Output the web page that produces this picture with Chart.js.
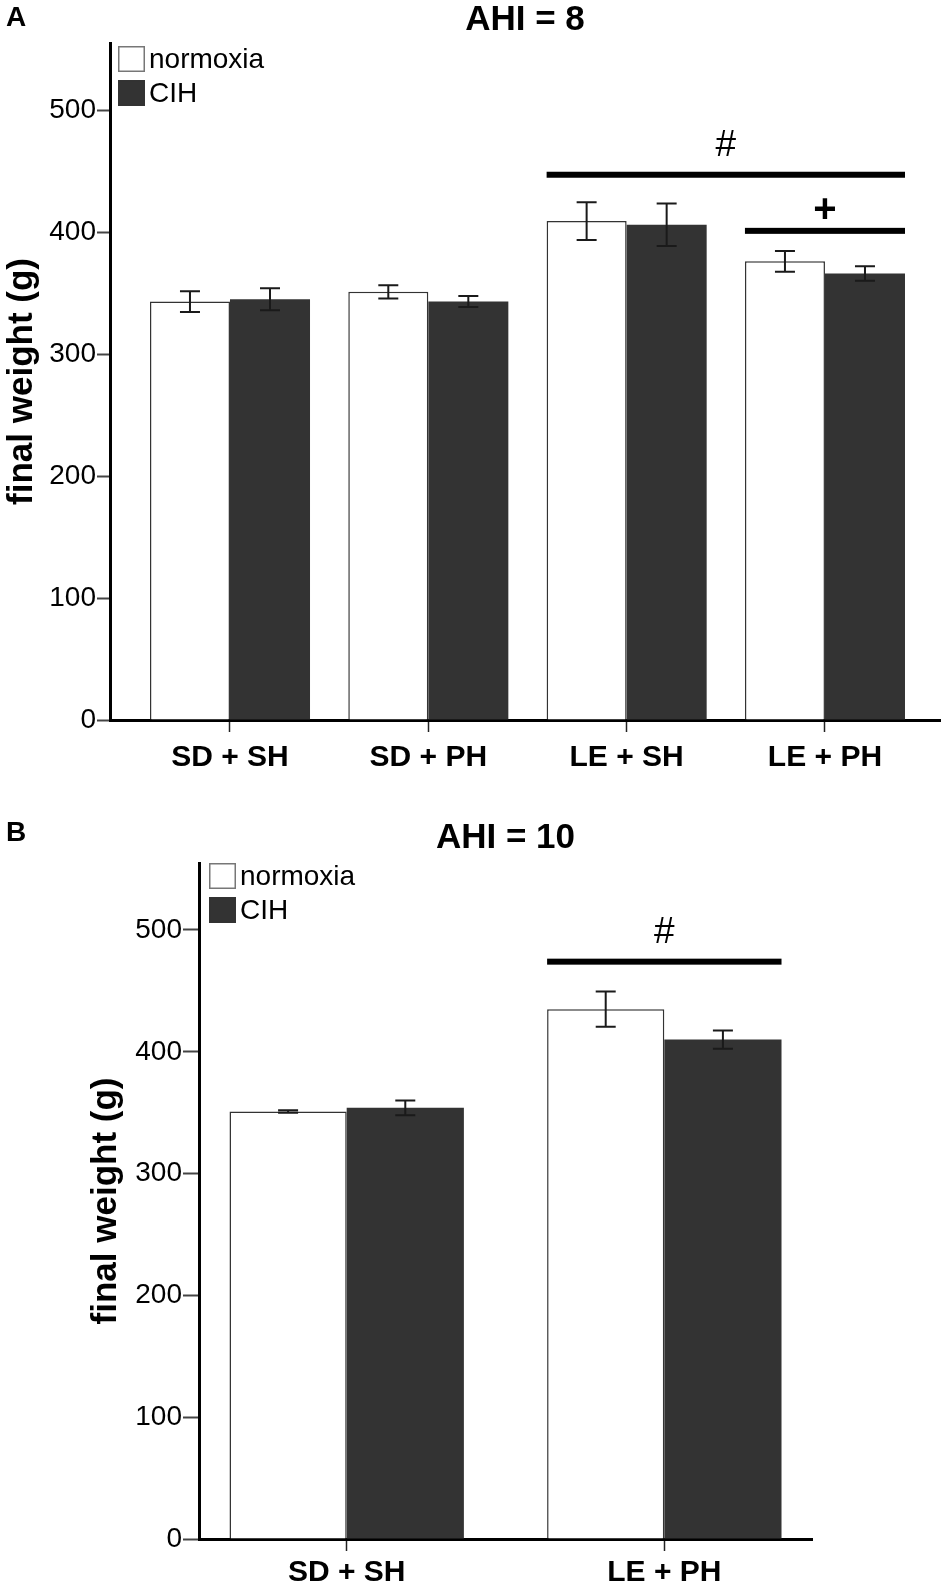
<!DOCTYPE html>
<html>
<head>
<meta charset="utf-8">
<script src="https://cdn.jsdelivr.net/npm/chart.js@4.4.1/dist/chart.umd.min.js"></script>
<style>
  body { margin: 0; background: #fff; }
  canvas { display: block; }
</style>
</head>
<body>
<canvas id="chartA" width="950" height="790"></canvas>
<canvas id="chartB" width="950" height="796"></canvas>
<script>
// panel A: AHI = 8
const categoriesA = ['SD + SH', 'SD + PH', 'LE + SH', 'LE + PH'];
const normoxiaA = [343, 351, 409, 376];
const normoxiaErrA = [8.5, 5.5, 15.5, 8.5];
const cihA = [345, 343, 406, 366];
const cihErrA = [9, 4.5, 17.5, 6];
const sigA = [
  { from: 2, to: 3, value: 447, mark: '#' },
  { from: 3, to: 3, value: 401, mark: '+' }
];

// panel B: AHI = 10
const categoriesB = ['SD + SH', 'LE + PH'];
const normoxiaB = [351, 435];
const normoxiaErrB = [1, 14.5];
const cihB = [354, 410];
const cihErrB = [6, 7.5];
const sigB = [
  { from: 1, to: 1, value: 474, mark: '#' }
];

const yTicks = [0, 100, 200, 300, 400, 500];
const seriesNames = ['normoxia', 'CIH'];

const FONT = "'Liberation Sans', Arial, sans-serif";

const overlay = {
  id: 'overlay',
  afterDatasetsDraw(chart, args, o) {
    const ctx = chart.ctx;
    const ys = chart.scales.y;
    const area = chart.chartArea;
    ctx.save();

    // error bars
    chart.data.datasets.forEach((ds, d) => {
      const meta = chart.getDatasetMeta(d);
      meta.data.forEach((bar, i) => {
        const v = ds.data[i].y, e = ds.errors[i];
        const top = ys.getPixelForValue(v + e);
        const bot = ys.getPixelForValue(v - e);
        ctx.strokeStyle = '#1a1a1a';
        ctx.lineWidth = 2;
        ctx.beginPath();
        ctx.moveTo(bar.x, top); ctx.lineTo(bar.x, bot);
        ctx.moveTo(bar.x - 10, top); ctx.lineTo(bar.x + 10, top);
        ctx.moveTo(bar.x - 10, bot); ctx.lineTo(bar.x + 10, bot);
        ctx.stroke();
      });
    });

    // significance bars
    const m0 = chart.getDatasetMeta(0), m1 = chart.getDatasetMeta(1);
    o.sig.forEach(s => {
      const b0 = m0.data[s.from], b1 = m1.data[s.to];
      const left = b0.x - b0.width / 2;
      const right = b1.x + b1.width / 2;
      const y = ys.getPixelForValue(s.value);
      ctx.fillStyle = '#000';
      ctx.fillRect(left, y - 3, right - left, 6);
      ctx.textAlign = 'center';
      ctx.textBaseline = 'middle';
      if (s.mark === '+') {
        ctx.font = 'bold 40px ' + FONT;
        ctx.fillText(s.mark, (left + right) / 2, y - 20);
      } else {
        ctx.font = '37px ' + FONT;
        ctx.fillText(s.mark, (left + right) / 2, y - 29);
      }
    });

    // legend
    const lx = area.left + o.legend.dx, ly = area.top + o.legend.dy;
    chart.data.datasets.forEach((ds, d) => {
      const by = ly + d * 34;
      ctx.fillStyle = ds.backgroundColor;
      ctx.fillRect(lx, by, 27, 26);
      ctx.strokeStyle = d === 0 ? '#777' : ds.backgroundColor;
      ctx.lineWidth = 1.5;
      ctx.strokeRect(lx + 0.75, by + 0.75, 25.5, 24.5);
      ctx.fillStyle = '#000';
      ctx.font = '28px ' + FONT;
      ctx.textAlign = 'left';
      ctx.textBaseline = 'middle';
      ctx.fillText(ds.label, lx + 31, by + 14);
    });

    // title and panel letter
    ctx.fillStyle = '#000';
    ctx.font = 'bold 35px ' + FONT;
    ctx.textAlign = 'center';
    ctx.textBaseline = 'middle';
    ctx.fillText(o.title, (area.left + area.right) / 2, o.titleY);
    ctx.font = 'bold 28px ' + FONT;
    ctx.textAlign = 'left';
    ctx.fillText(o.letter, 6, o.letterY);
    ctx.restore();
  }
};

function makePanel(id, p) {
  const ctx = document.getElementById(id).getContext('2d');
  const h = ctx.canvas.height;
  return new Chart(ctx, {
    type: 'bar',
    data: {
      datasets: [{
        label: seriesNames[0],
        data: p.normoxia.map((v, i) => ({ x: i, y: v })),
        errors: p.normoxiaErr,
        backgroundColor: '#ffffff',
        borderColor: '#333333',
        borderWidth: 1.5
      }, {
        label: seriesNames[1],
        data: p.cih.map((v, i) => ({ x: i, y: v })),
        errors: p.cihErr,
        backgroundColor: '#333333',
        borderColor: '#333333',
        borderWidth: 0
      }]
    },
    options: {
      responsive: false,
      animation: false,
      categoryPercentage: p.catPct,
      barPercentage: 1.0,
      layout: { padding: { top: p.top, right: 950 - p.right, left: 0, bottom: 0 } },
      plugins: {
        legend: { display: false },
        tooltip: { enabled: false },
        overlay: { sig: p.sig, legend: p.legend, title: p.title, titleY: p.titleY, letter: p.letter, letterY: p.letterY }
      },
      scales: {
        x: {
          type: 'linear',
          min: p.xMin,
          max: p.xMax,
          offset: false,
          afterBuildTicks: s => { s.ticks = p.categories.map((c, i) => ({ value: i })); },
          afterFit: s => { s.height = h - p.bottom; },
          grid: { offset: false, drawOnChartArea: false, drawTicks: true, tickLength: 12, tickColor: '#222', tickWidth: 1.5 },
          border: { display: true, color: '#000', width: 3 },
          ticks: {
            padding: p.xPad,
            color: '#000',
            font: { family: FONT, size: 30, weight: 'bold' },
            callback: v => p.categories[v]
          }
        },
        y: {
          min: 0,
          max: 555,
          afterBuildTicks: s => { s.ticks = yTicks.map(v => ({ value: v })); },
          afterFit: s => { s.width = p.left; },
          grid: { drawOnChartArea: false, drawTicks: true, tickLength: p.yTick, tickColor: '#444', tickWidth: 2 },
          border: { display: true, color: '#000', width: 3 },
          ticks: {
            padding: 1,
            color: '#000',
            font: { family: FONT, size: 28 }
          },
          title: {
            display: true,
            text: 'final weight (g)',
            color: '#000',
            font: { family: FONT, size: 35, weight: 'bold' },
            padding: { top: p.yTitlePad, bottom: 0 }
          }
        }
      }
    },
    plugins: [overlay]
  });
}

makePanel('chartA', {
  categories: categoriesA, normoxia: normoxiaA, normoxiaErr: normoxiaErrA,
  cih: cihA, cihErr: cihErrA, sig: sigA,
  left: 110, right: 940, top: 43, bottom: 720,
  xMin: -0.605, xMax: 3.58, catPct: 0.807, xPad: 8, yTick: 13, yTitlePad: 1,
  legend: { dx: 8, dy: 3 }, title: 'AHI = 8', titleY: 20, letter: 'A', letterY: 18
});

makePanel('chartB', {
  categories: categoriesB, normoxia: normoxiaB, normoxiaErr: normoxiaErrB,
  cih: cihB, cihErr: cihErrB, sig: sigB,
  left: 199, right: 812, top: 73, bottom: 749,
  xMin: -0.465, xMax: 1.465, catPct: 0.738, xPad: 4, yTick: 16, yTitlePad: 85,
  legend: { dx: 10, dy: 0 }, title: 'AHI = 10', titleY: 48, letter: 'B', letterY: 43
});
</script>
</body>
</html>
